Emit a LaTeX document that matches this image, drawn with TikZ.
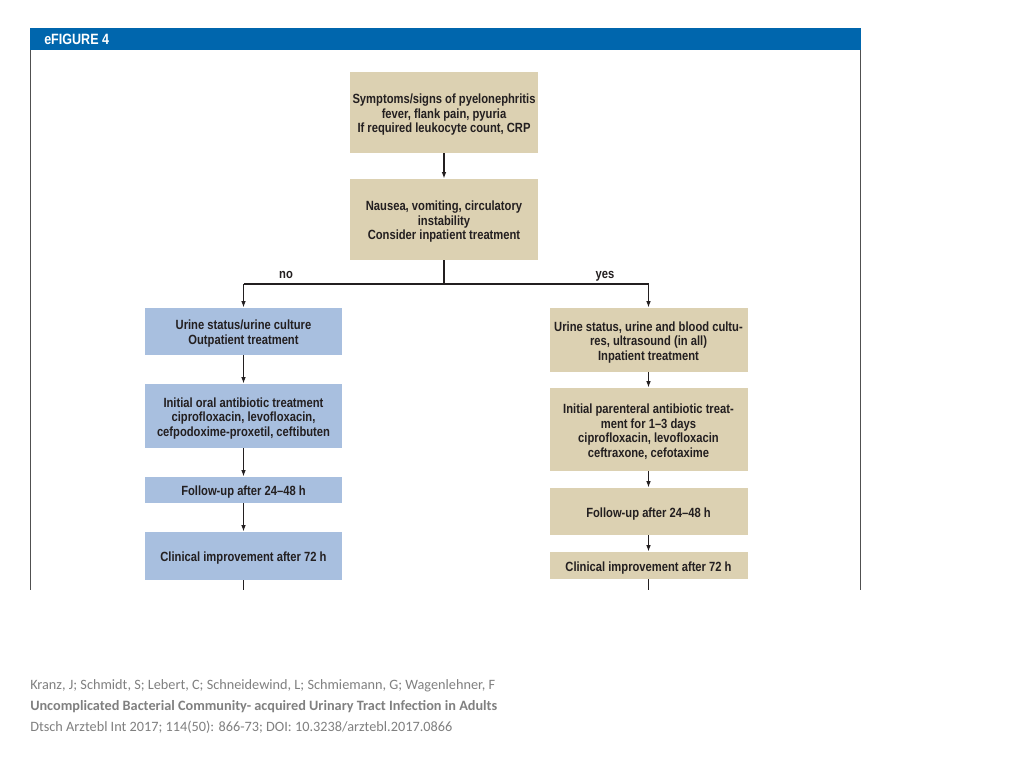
\documentclass[tikz,border=0pt]{standalone}
\usepackage{fontspec}
\setmainfont{Carlito}
\newfontfamily\figfont[FakeStretch=0.84,Ligatures=TeX]{Liberation Sans}
\usetikzlibrary{arrows.meta}
\definecolor{hdr}{HTML}{0066AD}
\definecolor{tanc}{HTML}{DCD1B2}
\definecolor{bluec}{HTML}{A8BFDF}
\definecolor{txtc}{HTML}{231F20}
\definecolor{capc}{HTML}{808080}
\definecolor{framec}{HTML}{505050}
\newcommand{\fstrut}{\rule{0pt}{10.5pt}}
\begin{document}
\begin{tikzpicture}[x=0.75pt,y=-0.75pt,
  boxbase/.style={inner sep=0pt, align=center, text=txtc,
    font=\figfont\bfseries\fontsize{10}{10.9}\selectfont},
  tanbox/.style={boxbase, fill=tanc},
  bluebox/.style={boxbase, fill=bluec},
  arr/.style={-{Latex[length=5pt,width=3.5pt]}, line width=1pt, draw=txtc},
  ln/.style={line width=1pt, draw=txtc},
  lbl/.style={text=txtc, anchor=base, inner sep=0pt, font=\figfont\bfseries\fontsize{10}{10.9}\selectfont},
  captxt/.style={anchor=west, text=capc, inner sep=0pt, font=\fontsize{10.7}{12}\selectfont}]
\useasboundingbox (0,0) rectangle (1024,768);
\fill[white] (0,0) rectangle (1024,768);
% header and frame
\fill[hdr] (30,28) rectangle (861,50);
\node[anchor=west, text=white, inner sep=0pt, font=\figfont\bfseries\fontsize{11.2}{12}\selectfont] (hdrtxt) at (44,39.5) {eFIGURE 4};
\draw[framec, line width=0.8pt] (30.5,50) -- (30.5,590);
\draw[framec, line width=0.8pt] (860.5,50) -- (860.5,590);
% top boxes
\node[tanbox, minimum width={188*0.75pt}, minimum height={81*0.75pt}] (b1) at (444,112.5)
  {\fstrut Symptoms/signs of pyelonephritis\\fever, flank pain, pyuria\\If required leukocyte count, CRP};
\node[tanbox, minimum width={188*0.75pt}, minimum height={81*0.75pt}] (b2) at (444,219.5)
  {\fstrut Nausea, vomiting, circulatory\\instability\\Consider inpatient treatment};
\draw[arr] (b1) -- (b2);
\coordinate (split) at (444,284);
\coordinate (nl) at (243.5,284);
\coordinate (yr) at (648.5,284);
\draw[ln] (b2) -- (split);
\draw[ln] (nl) -- (yr);
\node[lbl] (nolbl) at (286,278) {no};
\node[lbl] (yeslbl) at (605,278) {yes};
% left column
\node[bluebox, minimum width={197*0.75pt}, minimum height={47*0.75pt}] (l1) at (243.5,331.5)
  {\fstrut Urine status/urine culture\\Outpatient treatment};
\node[bluebox, minimum width={197*0.75pt}, minimum height={64*0.75pt}] (l2) at (243.5,416)
  {\fstrut Initial oral antibiotic treatment\\ciprofloxacin, levofloxacin,\\cefpodoxime-proxetil, ceftibuten};
\node[bluebox, minimum width={197*0.75pt}, minimum height={26*0.75pt}] (l3) at (243.5,490)
  {\fstrut Follow-up after 24–48 h};
\node[bluebox, minimum width={197*0.75pt}, minimum height={48*0.75pt}] (l4) at (243.5,556)
  {\fstrut Clinical improvement after 72 h};
\coordinate (lend) at (243.5,590);
\draw[arr] (nl) -- (l1);
\draw[arr] (l1) -- (l2);
\draw[arr] (l2) -- (l3);
\draw[arr] (l3) -- (l4);
\draw[ln] (l4) -- (lend);
% right column
\node[tanbox, minimum width={198*0.75pt}, minimum height={64*0.75pt}] (r1) at (648.5,340)
  {\fstrut Urine status, urine and blood cultu-\\res, ultrasound (in all)\\Inpatient treatment};
\node[tanbox, minimum width={198*0.75pt}, minimum height={83*0.75pt}] (r2) at (648.5,429.5)
  {\fstrut Initial parenteral antibiotic treat-\\ment for 1–3 days\\ciprofloxacin, levofloxacin\\ceftraxone, cefotaxime};
\node[tanbox, minimum width={198*0.75pt}, minimum height={47*0.75pt}] (r3) at (648.5,511.5)
  {\fstrut Follow-up after 24–48 h};
\node[tanbox, minimum width={198*0.75pt}, minimum height={27*0.75pt}] (r4) at (648.5,565.5)
  {\fstrut Clinical improvement after 72 h};
\coordinate (rend) at (648.5,590);
\draw[arr] (yr) -- (r1);
\draw[arr] (r1) -- (r2);
\draw[arr] (r2) -- (r3);
\draw[arr] (r3) -- (r4);
\draw[ln] (r4) -- (rend);
% caption
\node[captxt] (c1) at (30,686) {Kranz, J; Schmidt, S; Lebert, C; Schneidewind, L; Schmiemann, G; Wagenlehner, F};
\node[captxt, font=\bfseries\fontsize{10.7}{12}\selectfont] (c2) at (30,706.5) {Uncomplicated Bacterial Community- acquired Urinary Tract Infection in Adults};
\node[captxt] (c3) at (30,727) {Dtsch Arztebl Int 2017; 114(50): 866-73; DOI: 10.3238/arztebl.2017.0866};
\end{tikzpicture}
\end{document}
